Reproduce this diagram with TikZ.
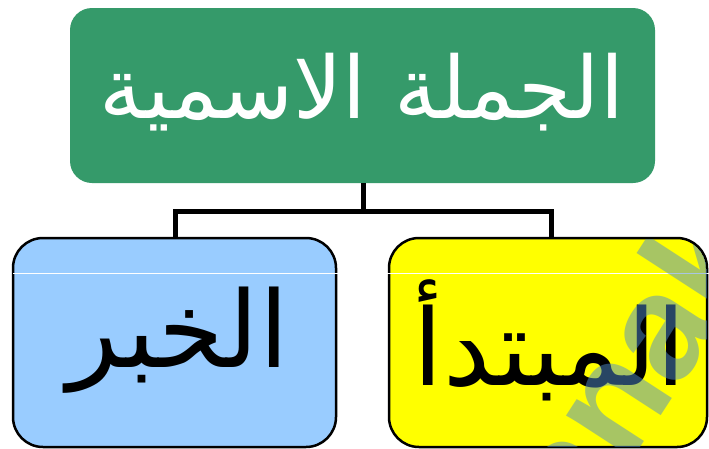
\documentclass[tikz,border=0pt]{standalone}
\usepackage{fontspec}
\TeXXeTstate=1
\newfontfamily\arabicfont[Script=Arabic]{DejaVu Sans}
\setsansfont{Liberation Sans}
\definecolor{topgreen}{RGB}{53,154,106}
\definecolor{leftblue}{RGB}{153,204,255}
\definecolor{rightyellow}{RGB}{255,255,0}
\definecolor{wmark}{RGB}{80,140,200}
\tikzset{
  topbox/.style={fill=topgreen, draw=none, rounded corners=22pt},
  childbox/.style={draw=black, line width=2.5pt, rounded corners=30pt},
  link/.style={draw=black, line width=5pt},
  toptext/.style={font=\arabicfont\fontsize{86}{90}\selectfont, text=white},
  childtext/.style={font=\arabicfont\fontsize{106}{110}\selectfont, text=black},
}
\begin{document}
\begin{tikzpicture}[x=1pt,y=-1pt]
\useasboundingbox (0,0) rectangle (709,448);
\fill[white] (0,0) rectangle (709,448);
% top box
\path[topbox] (70,8) rectangle (655,183);
\node[toptext] (top) at (362,92) {\beginR الجملة الاسمية\endR};
% child boxes
\path[childbox, fill=leftblue] (13,238) rectangle (336,447);
\path[childbox, fill=rightyellow] (389,238) rectangle (707,447);
\draw[white, line width=1pt] (13,273) -- (709,273);
% connectors
\coordinate (tb) at (363,183);
\coordinate (mid) at (363,211);
\coordinate (lcorner) at (175,211);
\coordinate (rcorner) at (551,211);
\coordinate (ltop) at (175,237);
\coordinate (rtop) at (551,237);
\draw[link] (tb) -- (mid);
\draw[link, line join=miter] (ltop) -- (lcorner) -- (rcorner) -- (rtop);
% child texts
\node[childtext] (khabar) at (178,340) {\beginR الخبر\endR};
\node[childtext] (mubtada) at (550,340) {\beginR المبتدأ\endR};
% watermark
\begin{scope}
\clip[rounded corners=30pt] (390,239) rectangle (706,446);
\node[text=wmark, opacity=0.5, rotate=57, inner sep=0pt, font=\sffamily\bfseries\fontsize{150}{150}\selectfont, anchor=base west] (wm) at (582,538) {anak};
\end{scope}
\end{tikzpicture}
\end{document}
